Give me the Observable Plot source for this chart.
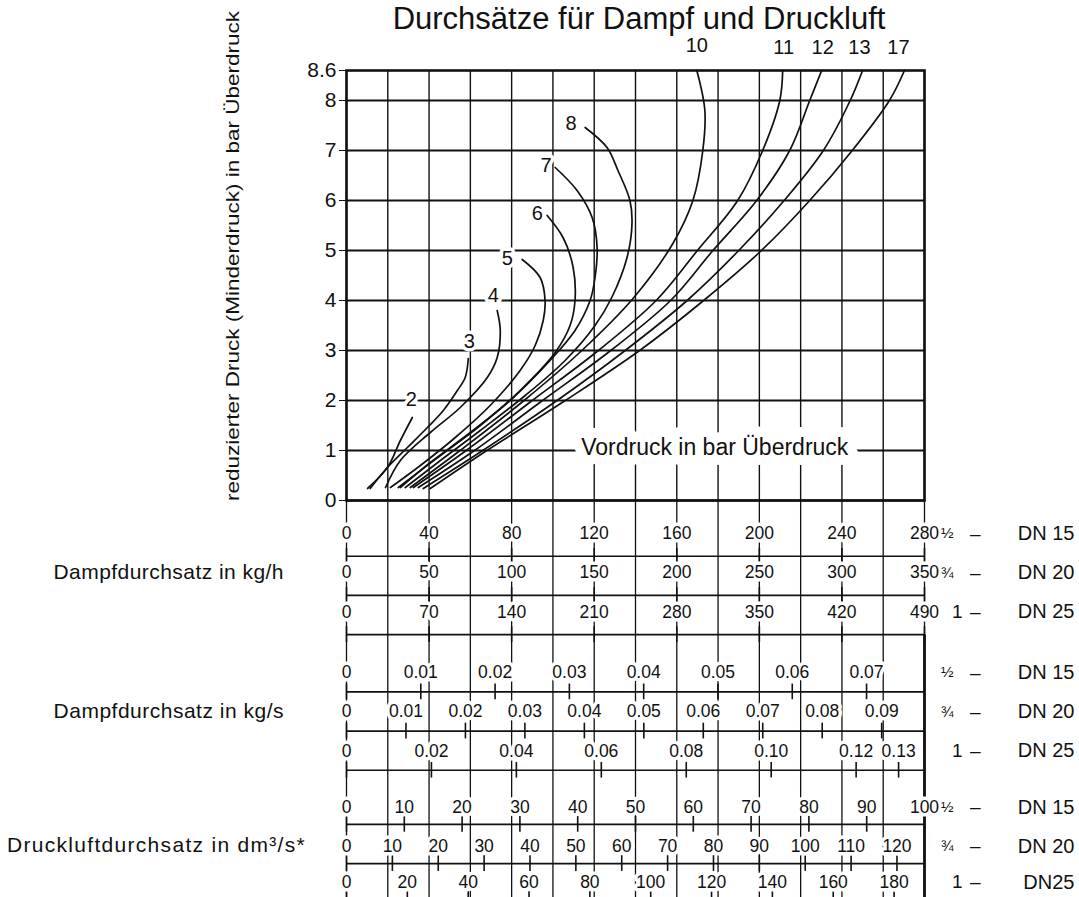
<!DOCTYPE html>
<html><head><meta charset="utf-8">
<script src="https://cdn.jsdelivr.net/npm/d3@7"></script>
<script src="https://cdn.jsdelivr.net/npm/@observablehq/plot@0.6"></script>
<style>
html,body{margin:0;padding:0;background:#fff;overflow:hidden;width:1079px;height:897px;}
#wrap{position:relative;width:1079px;height:897px;overflow:hidden;font-family:"Liberation Sans",Arial,sans-serif;color:#111;}
#title{position:absolute;left:639px;top:3px;transform:translateX(-50%);white-space:nowrap;font-size:31px;line-height:31px;}
#ylabel{position:absolute;left:233px;top:256px;transform:translate(-50%,-50%) rotate(-90deg) scaleY(0.82);white-space:nowrap;font-size:22.5px;line-height:24px;}
.sec{position:absolute;white-space:nowrap;font-size:21px;line-height:24px;text-align:right;}
#main{position:absolute;left:0;top:0;}
#lower{position:absolute;left:0;top:500px;}
svg{overflow:visible;}
</style></head>
<body><div id="wrap"><div id="title"></div><div id="ylabel"></div><div id="main"></div><div id="lower"></div></div>
<script>
// ---------- data ----------
const title = "Durchsätze für Dampf und Druckluft";
const yLabel = "reduzierter Druck (Minderdruck) in bar Überdruck";
const vordruckLabel = "Vordruck in bar Überdruck";
const gridX = [0,20,40,60,80,100,120,140,160,180,200,220,240,260,280];
const gridY = [0,1,2,3,4,5,6,7,8];
const yTicks = [0,1,2,3,4,5,6,7,8,8.6];

// curves: reduced pressure (bar) vs. DN15 steam flow (kg/h), one per upstream pressure
const curve2  = [[10.2,0.24],[19.8,0.66],[26.1,1.2],[31.9,1.66]];
const curve3  = [[11.5,0.24],[19.8,0.66],[29.5,1.06],[39.2,1.46],[46.9,1.8],[53.7,2.2],[57.5,2.46],[59,2.84]];
const curve4  = [[18.9,0.26],[26.1,0.8],[40.6,1.36],[55.1,1.86],[68.2,2.46],[73,2.86],[74.5,3.4],[73,3.8]];
const curve5  = [[21.3,0.26],[35.8,0.7],[52.7,1.26],[69.6,1.9],[84.1,2.6],[91.4,3.1],[95.3,3.6],[96.2,4.0],[93.8,4.46],[85.1,4.82]];
const curve6  = [[25.1,0.26],[45.5,0.9],[64.8,1.5],[84.1,2.2],[101.1,2.96],[108.3,3.5],[110.7,4.0],[109.8,4.66],[104.9,5.26],[97.2,5.7]];
const curve7  = [[26.1,0.26],[40.6,0.76],[60,1.36],[79.3,2.0],[98.6,2.8],[110.7,3.4],[118,4.0],[120.4,4.46],[121.4,5.06],[119,5.66],[111.7,6.2],[101.1,6.66]];
const curve8  = [[28.5,0.26],[45.5,0.8],[64.8,1.4],[86.6,2.1],[105.9,2.8],[120.4,3.5],[128.5,4.06],[135.9,4.86],[138.3,5.54],[137.3,6.0],[131.5,6.6],[126.2,7.06],[115.6,7.46]];
const curve10 = [[30.9,0.26],[55,1.0],[86,2.0],[114,3.0],[138.8,4.04],[158.1,5.14],[167.8,6.0],[172.6,7.0],[173.6,7.8],[169.7,8.6]];
const curve11 = [[32.4,0.26],[58,1.0],[90,2.0],[122,3.0],[150,4.0],[170,5.0],[189.5,6.0],[201.6,7.0],[209.9,8.0],[211.3,8.6]];
const curve12 = [[34.8,0.26],[62,1.0],[95,2.0],[128,3.0],[157,4.0],[177.5,5.0],[198.7,6.0],[214.7,7.0],[224.4,8.0],[230.2,8.6]];
const curve13 = [[37.2,0.24],[66,1.0],[102,2.0],[135,3.0],[165,4.0],[190,5.0],[212,6.0],[231,7.0],[244,8.0],[250,8.6]];
const curve17 = [[40.6,0.24],[68,1.0],[106,2.0],[142,3.0],[173,4.0],[201,5.0],[224.4,6.0],[245,7.0],[263,8.0],[270.3,8.6]];
const curveNames = ["2","3","4","5","6","7","8","10","11","12","13","17"];
const curveData = [curve2,curve3,curve4,curve5,curve6,curve7,curve8,curve10,curve11,curve12,curve13,curve17];
// label anchor positions (kg/h, bar)
const labelX = [31.4,59.5,71.1,77.9,92.4,96.7,108.8,169.7,211.8,230.7,248.5,267.4];
const labelY = [2.02,3.18,4.1,4.84,5.74,6.7,7.54,9.1,9.06,9.06,9.06,9.06];
const vordruckX = 178.4, vordruckY = 1.06;

// secondary scales
const rowNames  = ["kgh15","kgh20","kgh25","kgs15","kgs20","kgs25","dm15","dm20","dm25"];
const rowMax    = [280, 350, 490, 0.0778, 0.0972, 0.1361, 100, 126, 190];
const rowTicks  = [
  [0,40,80,120,160,200,240,280],
  [0,50,100,150,200,250,300,350],
  [0,70,140,210,280,350,420,490],
  [0,0.01,0.02,0.03,0.04,0.05,0.06,0.07],
  [0,0.01,0.02,0.03,0.04,0.05,0.06,0.07,0.08,0.09],
  [0,0.02,0.04,0.06,0.08,0.10,0.12,0.13],
  [0,10,20,30,40,50,60,70,80,90,100],
  [0,10,20,30,40,50,60,70,80,90,100,110,120],
  [0,20,40,60,80,100,120,140,160,180]
];
const rowDecimals = [0,0,0,2,2,2,0,0,0];
const rowSize  = ["½","¾","1","½","¾","1","½","¾","1"];
const rowDN    = ["DN 15","DN 20","DN 25","DN 15","DN 20","DN 25","DN 15","DN 20","DN25"];
const sectionTitles = ["Dampfdurchsatz in kg/h","Dampfdurchsatz in kg/s","Druckluftdurchsatz in dm³/s*"];

// ---------- layout ----------
const W = 1079, ML = 346, MR = 155;
const font = "'Liberation Sans', Arial, sans-serif";
const rowPos  = [0,1,2,3.55,4.55,5.55,6.98,7.98,8.9];
const baseOff = [0.58,0.58,0.58,0.49,0.49,0.49,0.44,0.44,0.44];
const secLayout = [{right: 284, y: 572, ls: 0.45}, {right: 284, y: 711, ls: 0.5}, {right: 306, y: 845, ls: 1.3}];

document.getElementById("title").textContent = title;
document.getElementById("ylabel").textContent = yLabel;
sectionTitles.forEach((t,i) => {
  const d = document.createElement("div");
  d.className = "sec"; d.textContent = t;
  d.style.right = (W - secLayout[i].right) + "px";
  d.style.top = (secLayout[i].y - 12) + "px";
  d.style.letterSpacing = secLayout[i].ls + "px";
  document.getElementById("wrap").appendChild(d);
});

// ---------- main chart ----------
const lines = curveData.flatMap((pts,i) => pts.map(([x,y]) => ({p: curveNames[i], x, y})));
const labels = curveNames.map((t,i) => ({t, x: labelX[i], y: labelY[i]}));

const main = Plot.plot({
  width: W, height: 502, marginLeft: ML, marginRight: MR, marginTop: 70, marginBottom: 2,
  style: {fontFamily: font, background: "transparent", color: "#111"},
  x: {domain: [0,280], axis: null},
  y: {domain: [0,8.6], axis: null},
  marks: [
    Plot.ruleX(gridX, {stroke: "#111", strokeWidth: 1.4}),
    Plot.ruleY(gridY, {stroke: "#111", strokeWidth: 1.8}),
    Plot.line(lines, {x: "x", y: "y", z: "p", curve: "catmull-rom", stroke: "#111", strokeWidth: 1.7}),
    Plot.text([vordruckLabel], {x: () => vordruckX, y: () => vordruckY, text: d => d, fontSize: 23, stroke: "white", strokeWidth: 20, fill: "#111"}),
    Plot.text(labels, {x: "x", y: "y", text: "t", fontSize: 20, stroke: "white", strokeWidth: 7, fill: "#111"}),
    Plot.frame({stroke: "#111", strokeWidth: 2.6}),
    Plot.axisY({ticks: yTicks, tickSize: 7, tickPadding: 3, fontSize: 21, label: null, tickFormat: d => String(d)})
  ]
});
document.getElementById("main").appendChild(main);

// ---------- lower secondary scales ----------
const rows = rowNames.map((n,i) => ({n, y: rowPos[i], yb: rowPos[i] + baseOff[i], size: rowSize[i], dn: rowDN[i]}));
const ticks = rowNames.flatMap((n,i) => rowTicks[i].map(v => ({
  n, pos: v * 280 / rowMax[i], y: rowPos[i], yb: rowPos[i] + baseOff[i],
  label: v === 0 ? "0" : v.toFixed(rowDecimals[i])
})));

const lower = Plot.plot({
  width: W, height: 397, marginLeft: ML, marginRight: MR, marginTop: 0, marginBottom: 0,
  style: {fontFamily: font, background: "transparent", color: "#111"},
  x: {domain: [0,280], axis: null},
  y: {domain: [-0.842, 9.286], reverse: true, axis: null},
  marks: [
    Plot.ruleX(gridX, {stroke: "#111", strokeWidth: 1.3}),
    Plot.ruleY(rows, {y: "yb", stroke: "#111", strokeWidth: 1.7}),
    Plot.ruleX(ticks, {x: "pos", y1: d => d.yb - 0.2, y2: d => d.yb + 0.2, stroke: "#111", strokeWidth: 1.6}),
    Plot.ruleX([280], {y1: () => rows[2].yb, y2: () => 9.286, stroke: "#111", strokeWidth: 2.8}),
    Plot.text(ticks, {x: "pos", y: "y", text: "label", fontSize: 17.5, stroke: "white", strokeWidth: 7, fill: "#111"}),
    Plot.text(rows.filter(r => r.size !== "1"), {frameAnchor: "right", y: "y", text: "size", dx: 29, fontSize: 15, fill: "#111"}),
    Plot.text(rows.filter(r => r.size === "1"), {frameAnchor: "right", y: "y", text: "size", dx: 38, fontSize: 19, fill: "#111"}),
    Plot.text(rows, {frameAnchor: "right", y: "y", text: () => "–", dx: 56, fontSize: 19, fill: "#111"}),
    Plot.text(rows, {frameAnchor: "right", y: "y", text: "dn", textAnchor: "end", dx: 150, fontSize: 20, fill: "#111"})
  ]
});
document.getElementById("lower").appendChild(lower);
</script></body></html>
